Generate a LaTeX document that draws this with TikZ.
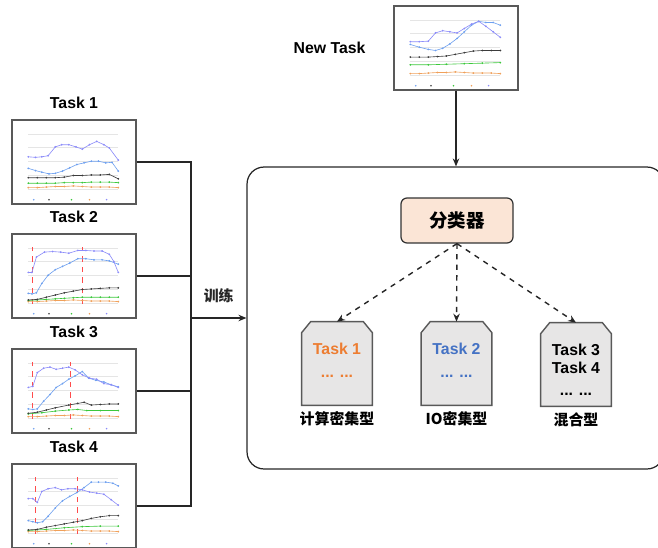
\documentclass[tikz,border=0pt]{standalone}
\usepackage{fontspec}
\setmainfont{Liberation Sans}
\newfontfamily\cjk{Noto Sans CJK SC}
\usepackage{tikz}
\usetikzlibrary{shapes,arrows.meta,positioning}

\definecolor{framegray}{RGB}{89,89,89}
\definecolor{clsfill}{RGB}{251,229,214}
\definecolor{docfill}{RGB}{231,230,230}
\definecolor{taskorange}{RGB}{237,125,49}
\definecolor{taskblue}{RGB}{68,114,196}
\definecolor{cpurple}{RGB}{140,140,250}
\definecolor{cblue}{RGB}{110,160,240}
\definecolor{cblack}{RGB}{60,60,60}
\definecolor{cgreen}{RGB}{60,200,60}
\definecolor{corange}{RGB}{240,160,90}

\tikzset{
    thumb/.style={draw=framegray, line width=0.8pt, fill=white,
        minimum width=2.48cm, minimum height=1.68cm, inner sep=0},
    tasklabel/.style={font=\fontsize{9}{10}\selectfont\bfseries, inner sep=0},
    stagebox/.style={draw=black!85, line width=0.7pt, rounded corners=0.34cm,
        minimum width=8.34cm, minimum height=6.04cm},
    clsbox/.style={draw=black!80, line width=0.7pt, fill=clsfill,
        rounded corners=0.12cm, minimum width=2.24cm, minimum height=0.9cm,
        font=\cjk\fontsize{10.5}{12}\selectfont\bfseries},
    docbox/.style={minimum width=1.4cm, minimum height=1.66cm, inner sep=0},
    docshape/.style={draw=framegray, line width=0.8pt, fill=docfill},
    doctext/.style={align=center, inner sep=0,
        font=\fontsize{9}{10}\selectfont\bfseries},
    typelabel/.style={font=\cjk\fontsize{8.5}{10}\selectfont\bfseries, inner sep=0},
    link/.style={line width=0.8pt, black!85},
    solidarrow/.style={link, -{Stealth[length=1.6mm, width=1.3mm]}},
    dasharrow/.style={line width=0.8pt, black!85, dashed,
        -{Stealth[length=1.6mm, width=1.3mm]}},
    gridline/.style={gray!20, line width=0.2pt},
    redmark/.style={red!70, dashed, line width=0.35pt},
    curve/.style={line width=0.35pt, mark=*, mark size=0.3pt},
}

% #1 thumbnail, #2 purple, #3 blue, #4 black, #5 green, #6 extra marks
\newcommand{\chartlines}[6]{%
    \begin{scope}[shift={(#1.south west)}, xshift=0.34cm, yshift=0.32cm,
            x=1.8cm, y=1.1cm]
        \foreach \g in {0,0.25,0.5,0.75,1}
            \draw[gridline] (0,\g) -- (1,\g);
        #6
        \draw[curve, corange] plot coordinates {(0,0.02) (0.1,0.02) (0.2,0.03)
            (0.3,0.04) (0.4,0.04) (0.5,0.05) (0.6,0.04) (0.7,0.03) (0.8,0.03)
            (0.9,0.03) (1,0.02)};
        \draw[curve, cgreen] plot coordinates {#5};
        \draw[curve, cblack] plot coordinates {#4};
        \draw[curve, cblue] plot coordinates {#3};
        \draw[curve, cpurple] plot coordinates {#2};
        \foreach \lx/\lc in {0.06/cblue,0.23/cblack,0.48/cgreen,0.68/corange,0.87/cpurple}
            \fill[\lc] (\lx,-0.2) circle (0.5pt);
    \end{scope}}

\newcommand{\docoutline}[1]{%
    \draw[docshape] (#1.south west) -- ([yshift=-0.22cm]#1.north west)
        -- ([xshift=0.18cm]#1.north west) -- ([xshift=-0.18cm]#1.north east)
        -- ([yshift=-0.22cm]#1.north east) -- (#1.south east) -- cycle;}

\begin{document}
\begin{tikzpicture}[x=0.02cm, y=-0.02cm]
    \useasboundingbox (0,0) rectangle (658,547);

    \node[thumb] (t1) at (74,162) {};
    \node[thumb] (t2) at (74,276) {};
    \node[thumb] (t3) at (74,391) {};
    \node[thumb] (t4) at (74,506) {};
    \node[thumb] (nt) at (456,48) {};

    \node[tasklabel, above=0.21cm of t1] (l1) {Task 1};
    \node[tasklabel, above=0.21cm of t2] (l2) {Task 2};
    \node[tasklabel, above=0.21cm of t3] (l3) {Task 3};
    \node[tasklabel, above=0.21cm of t4] (l4) {Task 4};
    \node[tasklabel, left=0.55cm of nt] (ntl) {New Task};

    \chartlines{t1}
        {(0,0.58) (0.08,0.57) (0.15,0.58) (0.22,0.6) (0.3,0.76) (0.37,0.8)
         (0.45,0.8) (0.53,0.76) (0.6,0.72) (0.68,0.8) (0.76,0.86) (0.84,0.8)
         (0.9,0.74) (1,0.52)}
        {(0,0.37) (0.08,0.33) (0.15,0.3) (0.23,0.27) (0.3,0.28) (0.38,0.32)
         (0.46,0.38) (0.54,0.44) (0.62,0.47) (0.7,0.5) (0.78,0.5) (0.86,0.47)
         (0.93,0.48) (1,0.32)}
        {(0,0.2) (0.1,0.2) (0.2,0.2) (0.3,0.2) (0.4,0.21) (0.5,0.24) (0.6,0.24)
         (0.7,0.25) (0.8,0.25) (0.9,0.26) (1,0.18)}
        {(0,0.1) (0.1,0.1) (0.2,0.1) (0.3,0.1) (0.4,0.11) (0.5,0.11) (0.6,0.11)
         (0.7,0.12) (0.8,0.12) (0.9,0.12) (1,0.11)}
        {}

    \chartlines{t2}
        {(0,0.55) (0.04,0.55) (0.09,0.83) (0.18,0.92) (0.27,0.93) (0.36,0.92)
         (0.45,0.9) (0.55,0.95) (0.64,0.95) (0.73,0.94) (0.82,0.94) (0.9,0.88)
         (0.95,0.75) (1,0.55)}
        {(0,0.17) (0.04,0.16) (0.09,0.18) (0.15,0.35) (0.22,0.5) (0.3,0.6)
         (0.38,0.66) (0.46,0.72) (0.55,0.8) (0.64,0.8) (0.73,0.78) (0.82,0.78)
         (0.9,0.76) (1,0.7)}
        {(0,0.05) (0.1,0.06) (0.2,0.1) (0.3,0.14) (0.4,0.18) (0.5,0.21) (0.6,0.24)
         (0.7,0.25) (0.8,0.26) (0.9,0.27) (1,0.27)}
        {(0,0.04) (0.1,0.05) (0.2,0.06) (0.3,0.07) (0.4,0.08) (0.5,0.09) (0.6,0.1)
         (0.7,0.1) (0.8,0.1) (0.9,0.1) (1,0.1)}
        {\draw[redmark] (0.05,-0.02) -- (0.05,1.02);
         \draw[redmark] (0.6,-0.02) -- (0.6,1.02);}

    \chartlines{t3}
        {(0,0.55) (0.05,0.57) (0.1,0.82) (0.17,0.9) (0.24,0.92) (0.31,0.88)
         (0.38,0.9) (0.45,0.92) (0.52,0.87) (0.6,0.78) (0.68,0.72) (0.76,0.7)
         (0.84,0.62) (0.92,0.6) (1,0.55)}
        {(0,0.16) (0.05,0.15) (0.1,0.16) (0.17,0.3) (0.24,0.42) (0.31,0.55)
         (0.38,0.62) (0.45,0.7) (0.52,0.76) (0.6,0.84) (0.67,0.72) (0.75,0.68)
         (0.84,0.65) (0.92,0.6) (1,0.56)}
        {(0,0.08) (0.1,0.1) (0.2,0.14) (0.3,0.18) (0.45,0.23) (0.55,0.26)
         (0.62,0.28) (0.7,0.23) (0.8,0.24) (0.9,0.25) (1,0.25)}
        {(0,0.07) (0.15,0.09) (0.3,0.12) (0.45,0.14) (0.55,0.15) (0.65,0.13)
         (0.8,0.13) (1,0.13)}
        {\draw[redmark] (0.05,-0.02) -- (0.05,1.02);
         \draw[redmark] (0.47,-0.02) -- (0.47,1.02);}

    \chartlines{t4}
        {(0,0.62) (0.05,0.62) (0.1,0.55) (0.15,0.75) (0.22,0.8) (0.3,0.82)
         (0.37,0.78) (0.44,0.8) (0.52,0.8) (0.6,0.78) (0.68,0.74) (0.76,0.72)
         (0.84,0.7) (0.92,0.6) (1,0.5)}
        {(0,0.22) (0.05,0.2) (0.1,0.18) (0.16,0.2) (0.22,0.3) (0.3,0.45)
         (0.38,0.58) (0.46,0.66) (0.54,0.73) (0.62,0.82) (0.7,0.92) (0.78,0.92)
         (0.86,0.92) (0.94,0.9) (1,0.85)}
        {(0,0.05) (0.1,0.06) (0.2,0.1) (0.3,0.13) (0.4,0.16) (0.5,0.19) (0.6,0.22)
         (0.7,0.26) (0.8,0.29) (0.9,0.31) (1,0.31)}
        {(0,0.04) (0.2,0.06) (0.4,0.09) (0.6,0.11) (0.8,0.12) (1,0.12)}
        {\draw[redmark] (0.08,-0.02) -- (0.08,1.02);
         \draw[redmark] (0.55,-0.02) -- (0.55,1.02);}

    \chartlines{nt}
        {(0,0.6) (0.1,0.6) (0.2,0.61) (0.28,0.76) (0.36,0.8) (0.44,0.78)
         (0.52,0.76) (0.6,0.84) (0.68,0.92) (0.76,0.97) (0.84,0.88) (0.92,0.78)
         (1,0.68)}
        {(0,0.55) (0.1,0.5) (0.2,0.46) (0.28,0.44) (0.36,0.48) (0.44,0.56)
         (0.52,0.66) (0.6,0.78) (0.68,0.9) (0.76,0.97) (0.84,0.95) (0.92,0.95)
         (1,0.9)}
        {(0,0.32) (0.1,0.32) (0.2,0.32) (0.3,0.33) (0.4,0.34) (0.5,0.37) (0.6,0.4)
         (0.7,0.43) (0.8,0.44) (0.9,0.44) (1,0.44)}
        {(0,0.18) (0.2,0.18) (0.4,0.19) (0.6,0.2) (0.8,0.21) (1,0.22)}
        {}

    \node[stagebox] (stage) at (455.5,318) {};
    \node[clsbox] (cls) at (457,220.5) {分类器};

    \node[docbox] (d1) at (337,363.5) {};
    \node[docbox] (d2) at (456.5,363.5) {};
    \node[docbox] (d3) at (576,364.5) {};
    \docoutline{d1}
    \docoutline{d2}
    \docoutline{d3}
    \node[doctext, text=taskorange] (d1t) at (337,360) {Task 1\\[3pt]... ...};
    \node[doctext, text=taskblue] (d2t) at (456.5,360) {Task 2\\[3pt]... ...};
    \node[doctext] (d3t) at (576,370) {Task 3\\Task 4\\[3pt]... ...};

    \node[typelabel, below=0.12cm of d1] (k1) {计算密集型};
    \node[typelabel, below=0.12cm of d2] (k2) {IO密集型};
    \node[typelabel, below=0.12cm of d3] (k3) {混合型};

    \coordinate (jn) at (191,318);
    \draw[link] (t1.east) -| (jn);
    \draw[link] (t2.east) -| (jn);
    \draw[link] (t3.east) -| (jn);
    \draw[link] (t4.east) -| (jn);
    \draw[solidarrow] (jn) -- node[typelabel, above=0.28cm] (train) {训练} (stage.west);

    \draw[solidarrow] (nt.south) -- (nt.south |- stage.north);

    \draw[dasharrow] (cls.south) -- (d1.north);
    \draw[dasharrow] (cls.south) -- (d2.north);
    \draw[dasharrow] (cls.south) -- (d3.north);

\end{tikzpicture}
\end{document}
